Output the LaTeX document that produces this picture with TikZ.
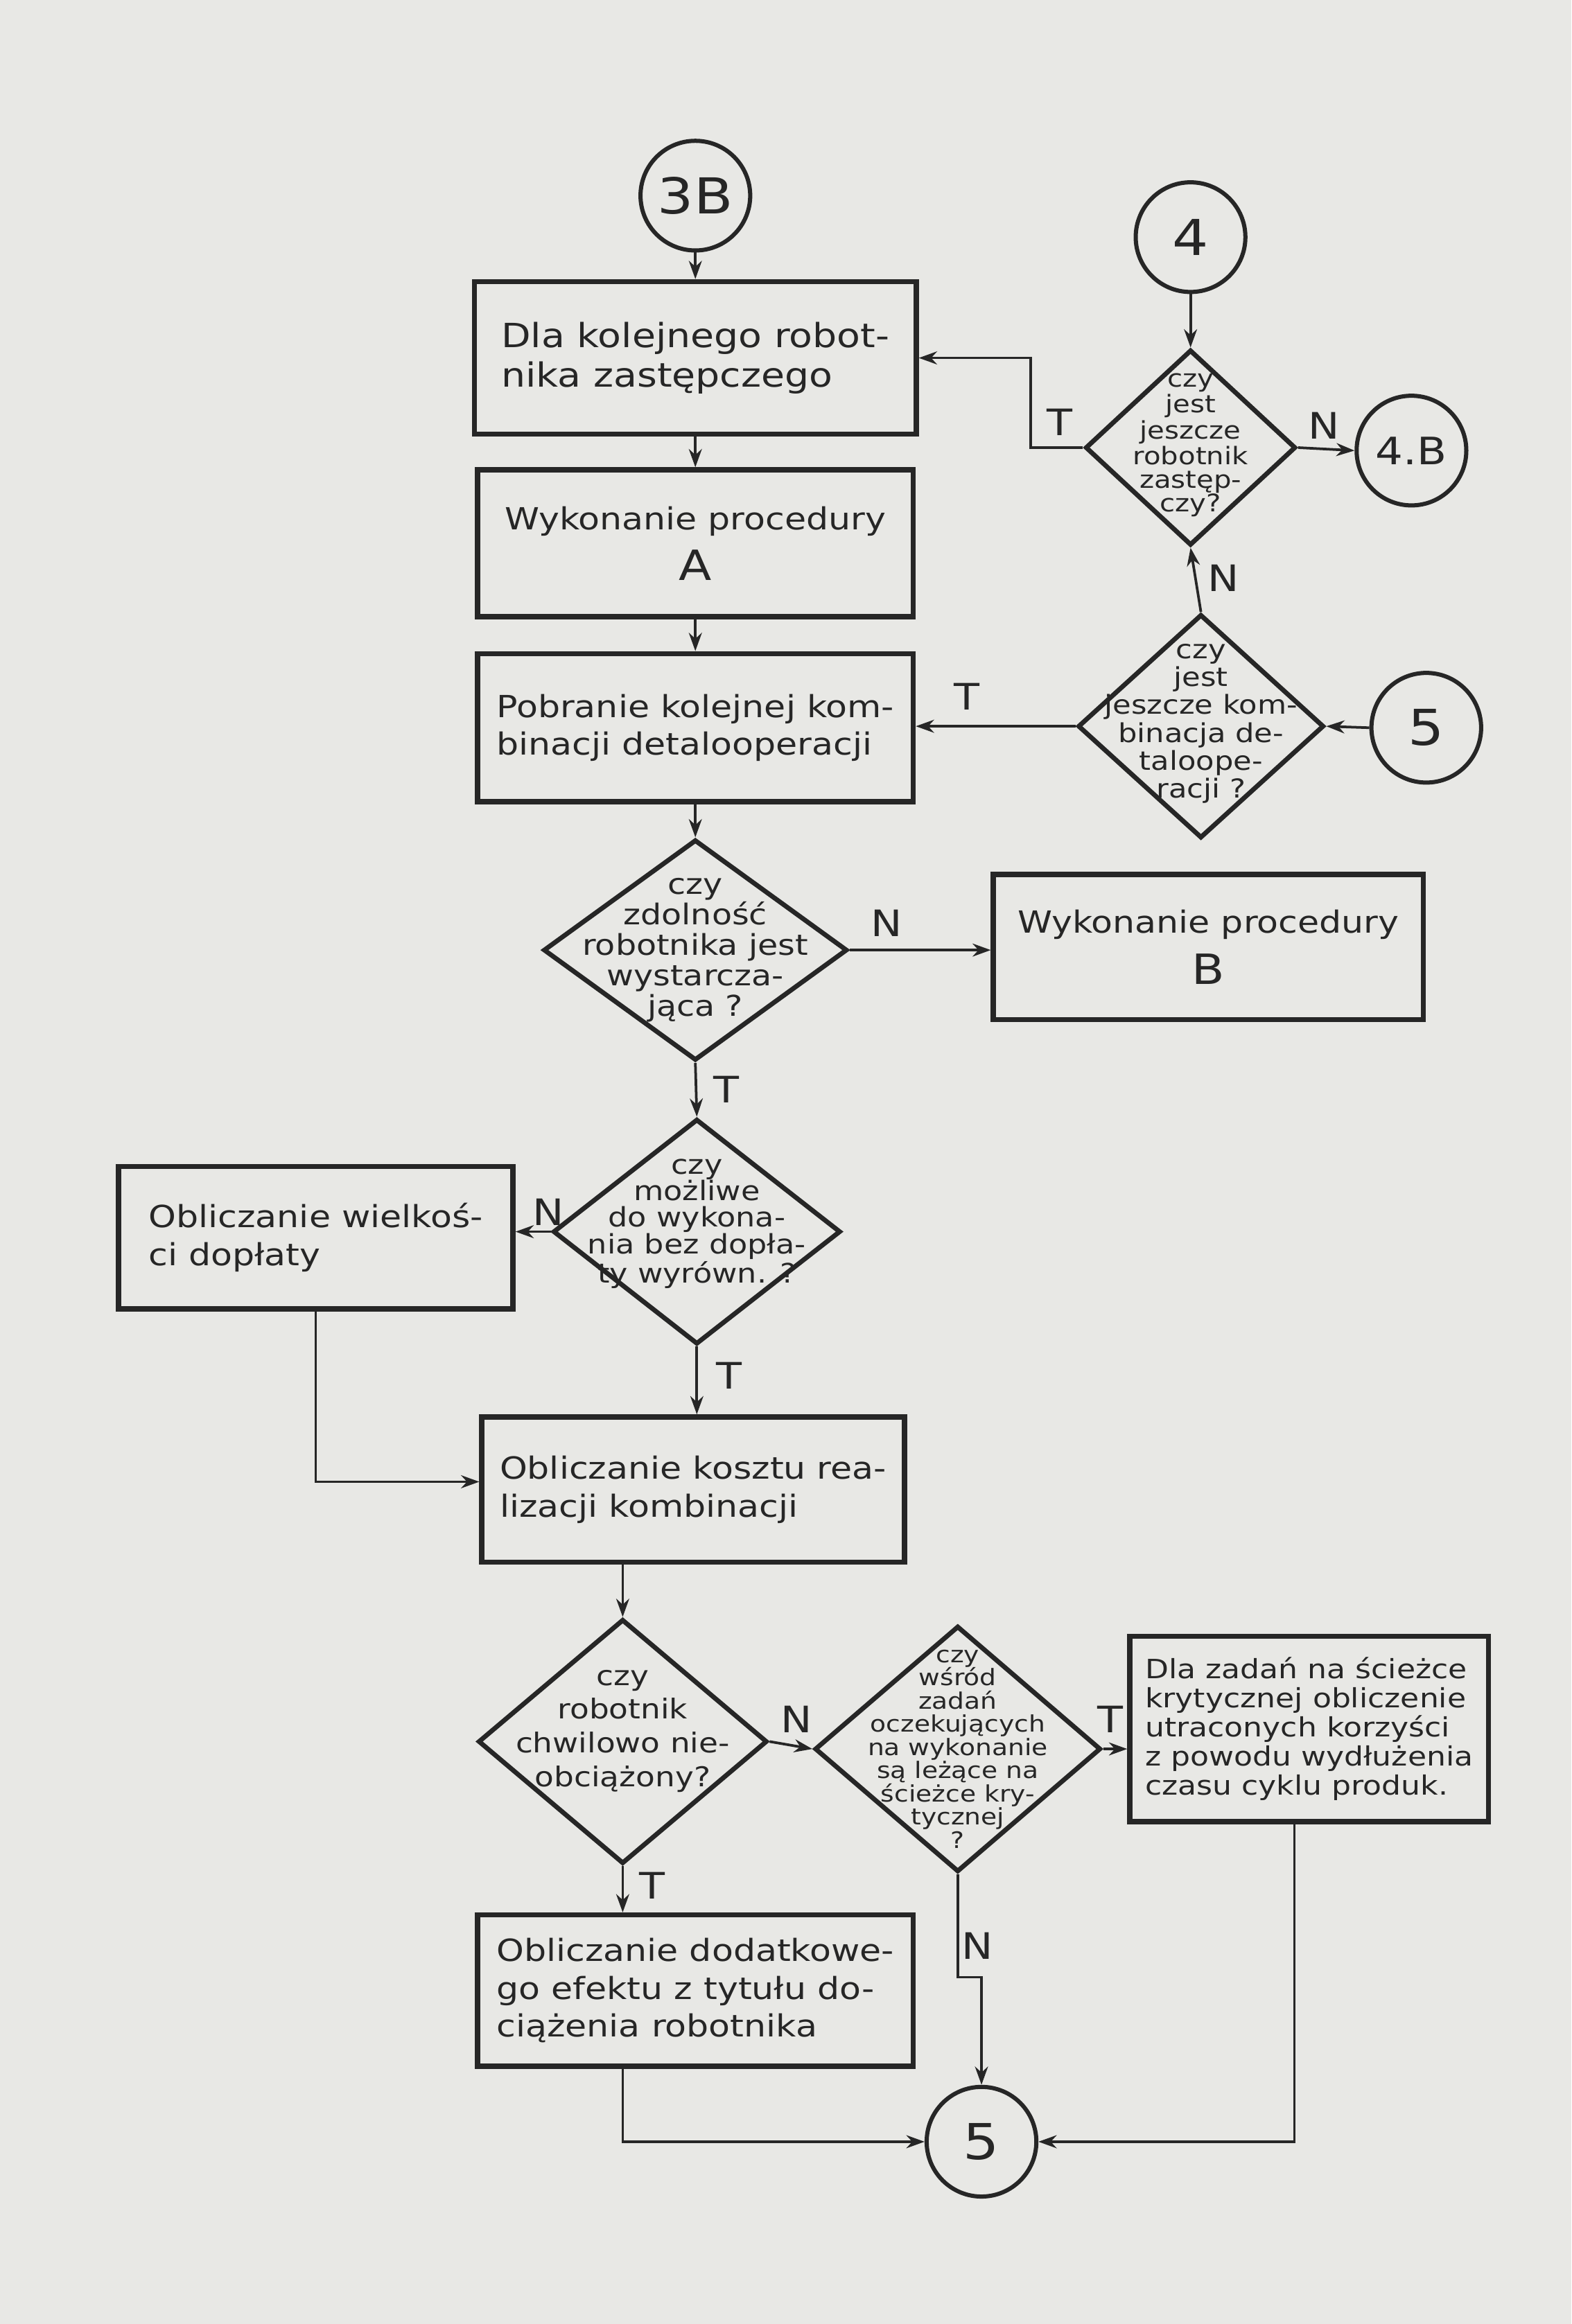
\documentclass[tikz,border=0pt]{standalone}
\usepackage{fontspec}
\setmainfont{DejaVu Sans}[FakeStretch=1.15]
\usetikzlibrary{shapes.geometric,arrows.meta}
\definecolor{papier}{RGB}{232,232,229}
\definecolor{tusz}{RGB}{38,38,38}

\begin{document}
\begin{tikzpicture}[x=0.02cm,y=-0.02cm,
  blok/.style={draw=tusz,line width=2pt,rectangle,inner sep=0pt,text=tusz,font=\fontsize{11.7}{14.5}\selectfont},
  romb/.style={draw=tusz,line width=1.8pt,diamond,inner sep=0pt},
  romtekst/.style={text=tusz,align=center,inner sep=0pt},
  kolo/.style={draw=tusz,line width=1.6pt,circle,minimum size=1.48cm,inner sep=0pt,text=tusz,font=\fontsize{19}{19}\selectfont},
  opis/.style={text=tusz,inner sep=0pt,font=\fontsize{14}{14}\selectfont},
  lacznik/.style={draw=tusz,line width=1pt,-{Stealth[length=7pt,width=5pt]}}]

% Kartka
\fill[papier] (0,0) rectangle (1060,1568);
\useasboundingbox (0,0) rectangle (1060,1568);

% Łączniki (kółka)
\node[kolo] (c3b) at (469,132) {3B};
\node[kolo] (c4) at (803,160) {4};
\node[kolo,font=\fontsize{14.5}{14.5}\selectfont] (c4b) at (952,304) {4.B};
\node[kolo] (c5a) at (962,491) {5};
\node[kolo] (c5b) at (662,1445) {5};

% Bloki
\node[blok,minimum width=5.96cm,minimum height=2.06cm,align=left,font=\fontsize{12.8}{15}\selectfont] (b1) at (469,241.5) {Dla kolejnego robot-\\nika zastępczego};
\node[blok,minimum width=5.88cm,minimum height=1.98cm,align=center] (b2) at (469,366.5) {Wykonanie procedury\\[5pt]{\fontsize{16}{16}\selectfont A}};
\node[blok,minimum width=5.88cm,minimum height=2cm,align=left] (b3) at (469,491) {Pobranie kolejnej kom-\\binacji detalooperacji};
\node[blok,minimum width=5.8cm,minimum height=1.96cm,align=center] (b4) at (815,639) {Wykonanie procedury\\[5pt]{\fontsize{16}{16}\selectfont B}};
\node[blok,minimum width=5.32cm,minimum height=1.92cm,align=left] (b5) at (213,835) {Obliczanie wielkoś-\\ci dopłaty};
\node[blok,minimum width=5.7cm,minimum height=1.96cm,align=left] (b6) at (467.5,1005) {Obliczanie kosztu rea-\\lizacji kombinacji};
\node[blok,minimum width=5.88cm,minimum height=2.04cm,align=left] (b7) at (469,1343) {Obliczanie dodatkowe-\\go efektu z tytułu do-\\ciążenia robotnika};
\node[blok,minimum width=4.84cm,minimum height=2.5cm,align=left,font=\fontsize{10.2}{11.2}\selectfont] (b8) at (883,1166.5) {Dla zadań na ścieżce\\krytycznej obliczenie\\utraconych korzyści\\z powodu wydłużenia\\czasu cyklu produk.};

% Decyzje
\node[romb,minimum width=2.84cm,minimum height=2.64cm] (d1) at (803,302) {};
\node[romtekst,font=\fontsize{9.3}{9}\selectfont] (d1t) at ([yshift=1pt]d1.center) {czy\\jest\\jeszcze\\robotnik\\zastęp-\\czy?};
\node[romb,minimum width=3.32cm,minimum height=3.02cm] (d2) at (810,490) {};
\node[romtekst,font=\fontsize{10}{9.4}\selectfont] (d2t) at ([yshift=1pt]d2.center) {czy\\jest\\jeszcze kom-\\binacja de-\\taloope-\\racji ?};
\node[romb,minimum width=4.1cm,minimum height=2.98cm] (d3) at (469,641) {};
\node[romtekst,font=\fontsize{11}{11.7}\selectfont] (d3t) at (d3.center) {czy\\zdolność\\robotnika jest\\wystarcza-\\jąca ?};
\node[romb,minimum width=3.88cm,minimum height=3.04cm] (d4) at (470,831) {};
\node[romtekst,font=\fontsize{10.3}{10.2}\selectfont] (d4t) at ([yshift=3pt]d4.center) {czy\\możliwe\\do wykona-\\nia bez dopła-\\ty wyrówn. ?};
\node[romb,minimum width=3.9cm,minimum height=3.3cm] (d5) at (420,1175) {};
\node[romtekst,font=\fontsize{10.5}{13}\selectfont] (d5t) at ([yshift=4pt]d5.center) {czy\\robotnik\\chwilowo nie-\\obciążony?};
\node[romb,minimum width=3.86cm,minimum height=3.32cm] (d6) at (646,1180) {};
\node[romtekst,font=\fontsize{8.7}{8.9}\selectfont] (d6t) at (d6.center) {czy\\wśród\\zadań\\oczekujących\\na wykonanie\\są leżące na\\ścieżce kry-\\tycznej\\?};

% Opisy wyjść T / N
\node[opis] (tD1) at (715,285) {T};
\node[opis] (nD1) at (893,287) {N};
\node[opis] (nD2) at (825,390) {N};
\node[opis] (tD2) at (652,470) {T};
\node[opis] (nD3) at (598,623) {N};
\node[opis] (tD3) at (490,735) {T};
\node[opis] (nD4) at (370,818) {N};
\node[opis] (tD4) at (492,928) {T};
\node[opis] (nD5) at (537,1160) {N};
\node[opis] (tD5) at (440,1272) {T};
\node[opis] (tD6) at (749,1160) {T};
\node[opis] (nD6) at (659,1313) {N};

% Punkty załamania
\coordinate (k1) at (695,302);
\coordinate (k2) at (646,1334);

% Strzałki
\draw[lacznik] (c3b.south) -- (b1.north);
\draw[lacznik] (b1.south) -- (b2.north);
\draw[lacznik] (b2.south) -- (b3.north);
\draw[lacznik] (b3.south) -- (d3.north);
\draw[lacznik] (c4.south) -- (d1.north);
\draw[lacznik] (d1.west) -- (k1) |- (b1.east);
\draw[lacznik] (d1.east) -- (c4b.west);
\draw[lacznik] (d2.north) -- (d1.south);
\draw[lacznik] (c5a.west) -- (d2.east);
\draw[lacznik] (d2.west) -- (d2.west -| b3.east);
\draw[lacznik] (d3.east) -- (d3.east -| b4.west);
\draw[lacznik] (d3.south) -- (d4.north);
\draw[lacznik] (d4.west) -- (d4.west -| b5.east);
\draw[lacznik] (d4.south) -- (d4.south |- b6.north);
\draw[lacznik] (b5.south) |- ([yshift=3pt]b6.west);
\draw[lacznik] (d5.north |- b6.south) -- (d5.north);
\draw[lacznik] (d5.east) -- (d6.west);
\draw[lacznik] (d5.south) -- (d5.south |- b7.north);
\draw[lacznik] (d6.east) -- (d6.east -| b8.west);
\draw[lacznik] (d6.south) -- (k2) -| (c5b.north);
\draw[lacznik] (d5.south |- b7.south) |- (c5b.west);
\draw[lacznik] ([xshift=-0.2cm]b8.south) |- (c5b.east);
\end{tikzpicture}
\end{document}
